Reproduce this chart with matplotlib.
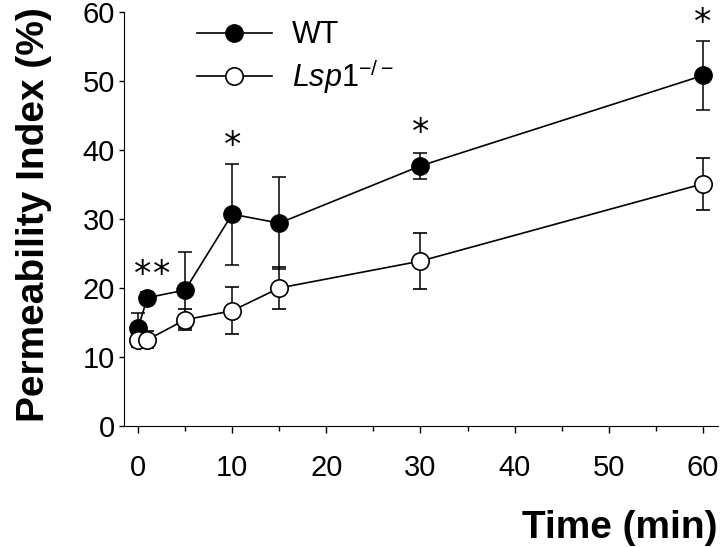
import numpy as np
import matplotlib
matplotlib.use('Agg')
import matplotlib.pyplot as plt
from matplotlib import rcParams

rcParams['font.family'] = ['Liberation Sans', 'DejaVu Sans']
rcParams['mathtext.fontset'] = 'custom'
rcParams['mathtext.rm'] = 'Liberation Sans'
rcParams['mathtext.it'] = 'Liberation Sans:italic'

#%% data
time = [0, 1, 5, 10, 15, 30, 60]
wt = [14.2, 18.6, 19.7, 30.7, 29.4, 37.7, 50.8]
wt_err = [2.2, 0.8, 5.5, 7.3, 6.7, 1.9, 5.0]
lsp = [12.5, 12.5, 15.4, 16.7, 20.0, 23.9, 35.1]
lsp_err = [1.0, 1.2, 1.5, 3.4, 3.1, 4.1, 3.8]

star_x = [0.5, 2.5, 10, 30, 60]
star_y = [21.9, 21.9, 40.6, 42.5, 58.4]

#%% plot
fig = plt.figure(figsize=(7.2, 5.47), dpi=100)
ax = fig.add_axes([124/720, 121/547, 594/720, 414/547])

e1 = ax.errorbar(time, wt, yerr=wt_err, color='black', lw=1.2, marker='o', ms=12.5,
                 mfc='black', mec='black', elinewidth=1.1, capsize=5, capthick=1.1,
                 zorder=2)
e2 = ax.errorbar(time, lsp, yerr=lsp_err, color='black', lw=1.2, marker='o', ms=12.5,
                 mfc='white', mec='black', mew=1.2, elinewidth=1.1, capsize=5,
                 capthick=1.1, zorder=3)

for x, y in zip(star_x, star_y):
    ax.text(x, y, '*', fontsize=25, ha='center', va='center', family='DejaVu Sans')

ax.set_xlim(-1.49, 61.6)
ax.set_ylim(0, 60)
ax.set_xticks(np.arange(0, 61, 10))
ax.set_xticks(np.arange(0, 61, 5), minor=True)
ax.set_yticks(np.arange(0, 61, 10))
ax.tick_params(axis='x', which='major', direction='out', length=5, width=1, labelsize=21, pad=15)
ax.tick_params(axis='x', which='minor', direction='out', length=3.5, width=1)
ax.tick_params(axis='y', direction='out', length=3.5, width=1, labelsize=21, pad=3)
ax.spines['top'].set_visible(False)
ax.spines['right'].set_visible(False)

ax.set_ylabel('Permeability Index (%)', fontsize=28, fontweight='bold')
ax.yaxis.set_label_coords(-0.122, 0.51)
fig.text(718/720, 1 - 538/547, 'Time (min)', fontsize=28, fontweight='bold',
         ha='right', va='baseline')

ax.legend([e1.lines[0], e2.lines[0]], ['WT', r'$\mathit{Lsp1}^{-/-}$'],
          loc='upper left', bbox_to_anchor=(0.123, 0.98), frameon=False,
          fontsize=22, handlelength=2.45, handletextpad=0.65,
          labelspacing=0.22, borderpad=0, borderaxespad=0)

fig.savefig('out.png', dpi=100)
